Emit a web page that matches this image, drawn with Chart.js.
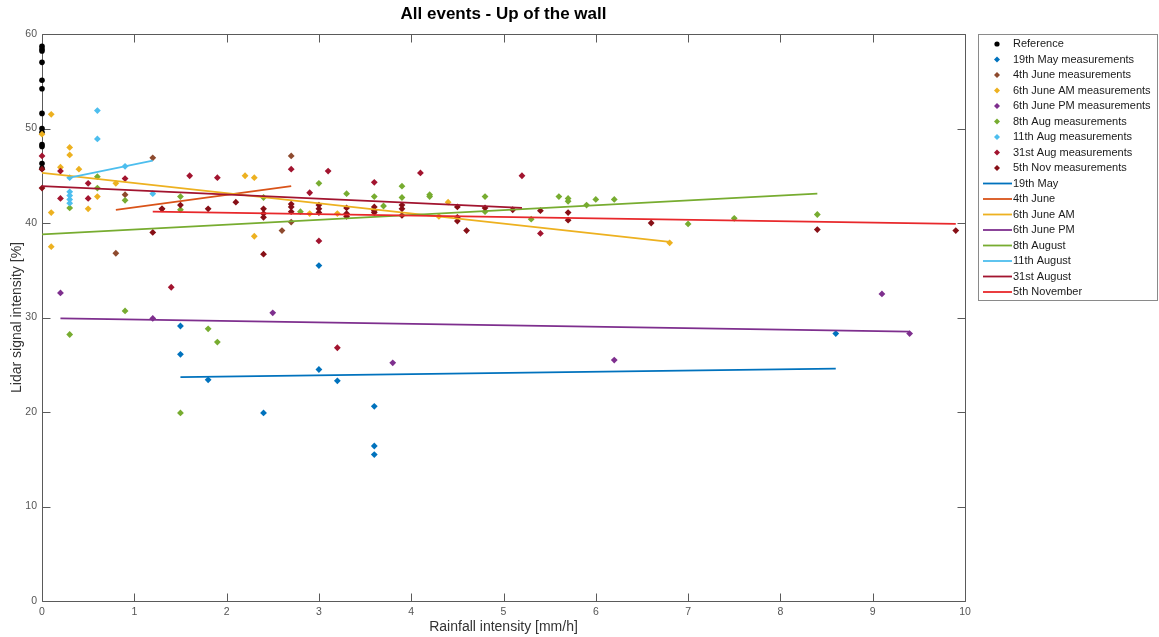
<!DOCTYPE html>
<html>
<head>
<meta charset="utf-8">
<script src="https://cdn.jsdelivr.net/npm/chart.js@4/dist/chart.umd.min.js"></script>
<style>
  html, body { margin: 0; padding: 0; background: #fff; }
  #wrap { width: 1159px; height: 637px; }
</style>
</head>
<body>
<div id="wrap"><canvas id="c" width="1159" height="637"></canvas></div>
<script>
// Axis ticks
const xTicks = [0, 1, 2, 3, 4, 5, 6, 7, 8, 9, 10];
const yTicks = [0, 10, 20, 30, 40, 50, 60];

// Reference readings (no rain)
const refX = [0, 0, 0, 0, 0, 0, 0, 0, 0, 0, 0, 0, 0];
const refY = [58.7, 58.4, 58.2, 57.0, 55.1, 54.2, 51.6, 50.0, 49.6, 48.3, 48.1, 46.3, 45.8];

// Measurements per event
const may19X = [1.5, 1.5, 1.8, 2.4, 3.0, 3.0, 3.2, 3.6, 3.6, 3.6, 8.6];
const may19Y = [29.1, 26.1, 23.4, 19.9, 35.5, 24.5, 23.3, 20.6, 16.4, 15.5, 28.3];

const june4X = [0.8, 0.9, 1.2, 1.3, 2.6, 2.7, 2.7];
const june4Y = [36.8, 43.0, 46.9, 41.5, 39.2, 47.1, 40.1];

const june6amX = [0, 0.1, 0.3, 0.3, 0.2, 0.4, 0.6, 0.8, 0.5, 0.1, 0.1, 2.2, 2.3, 2.3, 2.9, 3.2, 4.4, 4.3, 6.8];
const june6amY = [49.4, 51.5, 48.0, 47.2, 45.9, 45.7, 42.8, 44.2, 41.5, 41.1, 37.5, 45.0, 44.8, 38.6, 41.0, 41.0, 42.2, 40.7, 37.9];

const june6pmX = [0.2, 1.2, 2.5, 3.8, 6.2, 9.1, 9.4];
const june6pmY = [32.6, 29.9, 30.5, 25.2, 25.5, 32.5, 28.3];

const aug8X = [0.3, 0.3, 0.9, 1.5, 1.8, 1.9, 0.6, 0.6, 0.9, 1.5, 1.5, 2.4, 2.8, 3.0, 3.3, 3.6, 3.7, 3.9, 3.9, 4.2, 4.2, 4.8, 4.8, 5.3, 5.6, 5.7, 5.7, 5.9, 6.0, 6.2, 7.0, 7.5, 8.4];
const aug8Y = [41.6, 28.2, 30.7, 19.9, 28.8, 27.4, 44.9, 43.7, 42.4, 42.8, 41.4, 42.7, 41.2, 44.2, 43.1, 42.8, 41.8, 43.9, 42.7, 43.0, 42.8, 42.8, 41.2, 40.4, 42.8, 42.6, 42.3, 41.9, 42.5, 42.5, 39.9, 40.5, 40.9];

const aug11X = [0.6, 0.6, 0.9, 0.3, 0.3, 0.3, 0.3, 0.3, 1.2];
const aug11Y = [51.9, 48.9, 46.0, 44.8, 43.3, 42.9, 42.5, 42.1, 43.1];

const aug31X = [0, 0.2, 0.5, 0.2, 0.5, 0.9, 1.6, 1.9, 2.7, 2.9, 3.1, 3.6, 4.1, 5.2, 1.4, 3.2, 3.0, 5.4];
const aug31Y = [47.1, 45.5, 44.2, 42.6, 42.6, 44.7, 45.0, 44.8, 45.7, 43.2, 45.5, 44.3, 45.3, 45.0, 33.2, 26.8, 38.1, 38.9];

const nov5X = [0, 0, 1.2, 1.3, 1.5, 1.8, 2.1, 2.4, 2.4, 2.4, 2.4, 2.7, 2.7, 2.7, 3.0, 3.0, 3.0, 3.3, 3.3, 3.3, 3.6, 3.6, 3.6, 3.9, 3.9, 3.9, 4.5, 4.5, 4.5, 4.6, 4.8, 5.1, 5.4, 5.7, 5.7, 6.6, 8.4, 9.9];
const nov5Y = [45.7, 43.7, 39.0, 41.5, 41.9, 41.5, 42.2, 41.5, 41.0, 40.6, 36.7, 42.0, 41.7, 41.2, 41.9, 41.5, 41.1, 41.6, 41.0, 40.7, 41.7, 41.3, 41.1, 41.9, 41.5, 40.8, 41.7, 40.6, 40.2, 39.2, 41.6, 41.4, 41.3, 41.1, 40.3, 40.0, 39.3, 39.2];

// Linear trend lines (end points)
const fitMay19X = [1.5, 8.6],  fitMay19Y = [23.7, 24.6];
const fitJune4X = [0.8, 2.7],  fitJune4Y = [41.4, 43.9];
const fitJune6amX = [0, 6.8],  fitJune6amY = [45.3, 38.0];
const fitJune6pmX = [0.2, 9.4], fitJune6pmY = [29.9, 28.5];
const fitAug8X = [0, 8.4],     fitAug8Y = [38.8, 43.1];
const fitAug11X = [0.3, 1.2],  fitAug11Y = [44.8, 46.6];
const fitAug31X = [0, 5.2],    fitAug31Y = [43.9, 41.6];
const fitNov5X = [1.2, 9.9],   fitNov5Y = [41.2, 39.9];

const pts = (xs, ys) => xs.map((x, i) => ({ x: x, y: ys[i] }));

const FONT = '"Liberation Sans", Arial, Helvetica, sans-serif';

function markers(label, xs, ys, color, style) {
  return {
    label: label, kind: 'marker', data: pts(xs, ys), showLine: false, clip: false,
    pointStyle: style || 'rectRot', pointRadius: style === 'circle' ? 2.8 : 3.4,
    pointHoverRadius: 3, backgroundColor: color, borderColor: color, borderWidth: 0
  };
}
function trend(label, xs, ys, color) {
  return {
    label: label, kind: 'line', data: pts(xs, ys), showLine: true,
    pointRadius: 0, pointHoverRadius: 0, borderColor: color, backgroundColor: color,
    borderWidth: 1.8, fill: false, tension: 0
  };
}

const datasets = [
  markers('Reference', refX, refY, '#000000', 'circle'),
  markers('19th May measurements', may19X, may19Y, '#0072BD'),
  markers('4th June measurements', june4X, june4Y, '#8E4A2E'),
  markers('6th June AM measurements', june6amX, june6amY, '#EDB120'),
  markers('6th June PM measurements', june6pmX, june6pmY, '#7E2F8E'),
  markers('8th Aug measurements', aug8X, aug8Y, '#77AC30'),
  markers('11th Aug measurements', aug11X, aug11Y, '#4DBEEE'),
  markers('31st Aug measurements', aug31X, aug31Y, '#A2142F'),
  markers('5th Nov measurements', nov5X, nov5Y, '#870F16'),
  trend('19th May', fitMay19X, fitMay19Y, '#0072BD'),
  trend('4th June', fitJune4X, fitJune4Y, '#D95319'),
  trend('6th June AM', fitJune6amX, fitJune6amY, '#EDB120'),
  trend('6th June PM', fitJune6pmX, fitJune6pmY, '#7E2F8E'),
  trend('8th August', fitAug8X, fitAug8Y, '#77AC30'),
  trend('11th August', fitAug11X, fitAug11Y, '#4DBEEE'),
  trend('31st August', fitAug31X, fitAug31Y, '#A2142F'),
  trend('5th November', fitNov5X, fitNov5Y, '#E8282B')
];
// later series are drawn on top
datasets.forEach((d, i) => { d.order = datasets.length - i; });

// Box frame with inward tick marks on all four sides
const frameTicks = {
  id: 'frameTicks',
  beforeDatasetsDraw(chart) {
    const { ctx, chartArea: a, scales } = chart;
    const L = Math.round(a.left) + 0.5, R = Math.round(a.right) + 0.5;
    const T = Math.round(a.top) + 0.5, B = Math.round(a.bottom) + 0.5;
    const len = 8;
    ctx.save();
    ctx.strokeStyle = '#5a5a5a';
    ctx.lineWidth = 1;
    ctx.beginPath();
    ctx.rect(L, T, R - L, B - T);
    xTicks.forEach(v => {
      const px = Math.round(scales.x.getPixelForValue(v)) + 0.5;
      ctx.moveTo(px, B); ctx.lineTo(px, B - len);
      ctx.moveTo(px, T); ctx.lineTo(px, T + len);
    });
    yTicks.forEach(v => {
      const py = Math.round(scales.y.getPixelForValue(v)) + 0.5;
      ctx.moveTo(L, py); ctx.lineTo(L + len, py);
      ctx.moveTo(R, py); ctx.lineTo(R - len, py);
    });
    ctx.stroke();
    ctx.restore();
  }
};

// Legend box to the right of the axes
const sideLegend = {
  id: 'sideLegend',
  afterDraw(chart) {
    const { ctx } = chart;
    const box = { x: 978.5, y: 34.5, w: 179, h: 266 };
    const rowY0 = 44, rowH = 15.5;
    ctx.save();
    ctx.fillStyle = '#ffffff';
    ctx.fillRect(box.x, box.y, box.w, box.h);
    ctx.strokeStyle = '#8a8a8a';
    ctx.lineWidth = 1;
    ctx.strokeRect(box.x, box.y, box.w, box.h);
    ctx.font = '11px ' + FONT;
    ctx.textBaseline = 'middle';
    ctx.textAlign = 'left';
    chart.data.datasets.forEach((d, i) => {
      const y = rowY0 + i * rowH;
      if (d.kind === 'marker') {
        ctx.fillStyle = d.backgroundColor;
        ctx.beginPath();
        if (d.pointStyle === 'circle') {
          ctx.arc(997, y, 2.6, 0, Math.PI * 2);
        } else {
          ctx.moveTo(997, y - 3); ctx.lineTo(1000, y); ctx.lineTo(997, y + 3); ctx.lineTo(994, y);
          ctx.closePath();
        }
        ctx.fill();
      } else {
        ctx.strokeStyle = d.borderColor;
        ctx.lineWidth = 1.8;
        ctx.beginPath();
        ctx.moveTo(983, y); ctx.lineTo(1012, y);
        ctx.stroke();
      }
      ctx.fillStyle = '#1a1a1a';
      ctx.fillText(d.label, 1013, y);
    });
    ctx.restore();
  }
};

new Chart(document.getElementById('c'), {
  type: 'scatter',
  data: { datasets: datasets },
  options: {
    responsive: false,
    devicePixelRatio: 1,
    animation: false,
    events: [],
    layout: { padding: { left: 0, right: 194, top: 0, bottom: 0 } },
    plugins: {
      legend: { display: false },
      tooltip: { enabled: false },
      title: {
        display: true,
        text: 'All events - Up of the wall',
        fullSize: false,
        color: '#000',
        font: { family: FONT, size: 17, weight: 'bold', lineHeight: 1.2 },
        padding: { top: 4, bottom: 9.6 }
      }
    },
    scales: {
      x: {
        type: 'linear', min: 0, max: 10,
        afterBuildTicks: s => { s.ticks = xTicks.map(v => ({ value: v })); },
        afterFit: s => { s.height = 36; },
        grid: { display: false, drawTicks: false },
        border: { display: false },
        ticks: { color: '#555', padding: 5, font: { family: FONT, size: 10.5 } },
        title: {
          display: true, text: 'Rainfall intensity [mm/h]', color: '#333',
          font: { family: FONT, size: 14, lineHeight: 1.2 }, padding: { top: 0, bottom: 1 }
        }
      },
      y: {
        type: 'linear', min: 0, max: 60,
        afterBuildTicks: s => { s.ticks = yTicks.map(v => ({ value: v })); },
        afterFit: s => { s.width = 42; },
        grid: { display: false, drawTicks: false },
        border: { display: false },
        ticks: { color: '#555', padding: 5, font: { family: FONT, size: 10.5 } },
        title: {
          display: true, text: 'Lidar signal intensity [%]', color: '#333',
          font: { family: FONT, size: 14, lineHeight: 1.2 }, padding: { top: 9, bottom: 0 }
        }
      }
    }
  },
  plugins: [frameTicks, sideLegend]
});
</script>
</body>
</html>
